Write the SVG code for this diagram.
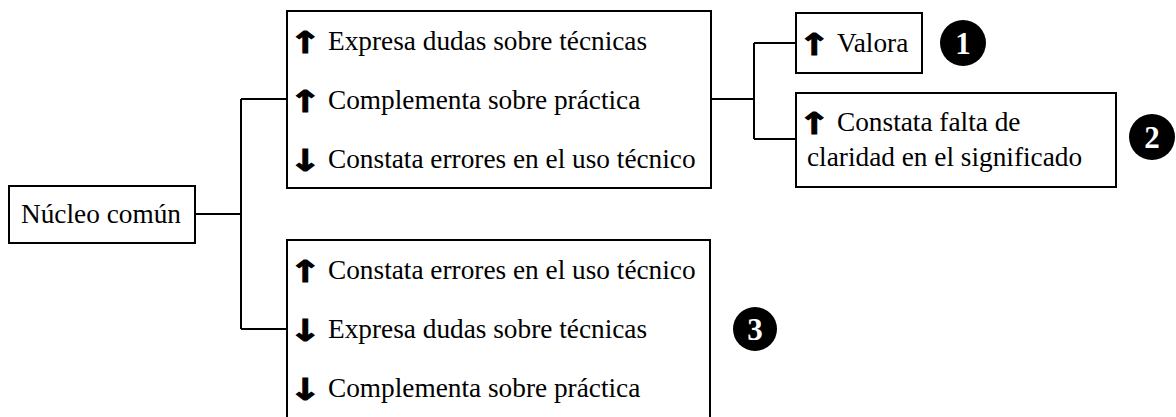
<svg xmlns="http://www.w3.org/2000/svg" width="1176" height="417" viewBox="0 0 1176 417">
<style>
.box{fill:#fff;stroke:#000;stroke-width:2}
.t{font-family:"Liberation Serif","Times New Roman",serif;font-size:27.3px;fill:#000}
.ar{font-family:"DejaVu Sans",sans-serif;font-weight:bold;font-size:30px;fill:#000;stroke:#000;stroke-width:1;text-anchor:middle}
.c{fill:#000}
.n{font-family:"Liberation Serif","Times New Roman",serif;font-weight:bold;font-size:31px;fill:#fff;text-anchor:middle}
.ln{fill:none;stroke:#000;stroke-width:2}
</style>
<rect width="1176" height="417" fill="#fff"/>
<g id="connectors">
<path class="ln" d="M195 214H241M241 99V329M241 99H287M241 329H287"/>
<path class="ln" d="M711 99H754M754 43V139M754 43H796M754 139H796"/>
</g>
<g id="nucleo">
<rect class="box" x="9" y="186" width="186" height="57"/>
<text class="t" x="21" y="223">Núcleo común</text>
</g>
<g id="grupo1">
<rect class="box" x="287" y="11" width="424" height="177"/>
<g transform="matrix(1.3 0 0 1 -91.5 0)">
<text class="ar" x="305" y="53">↑</text>
<text class="ar" x="305" y="112">↑</text>
<text class="ar" x="305" y="171">↓</text>
</g>
<text class="t" x="328" y="50">Expresa dudas sobre técnicas</text>
<text class="t" x="328" y="109">Complementa sobre práctica</text>
<text class="t" x="328" y="168">Constata errores en el uso técnico</text>
</g>
<g id="valora">
<rect class="box" x="796" y="13" width="126" height="60"/>
<g transform="matrix(1.3 0 0 1 -244.2 0)"><text class="ar" x="814" y="55">↑</text></g>
<text class="t" x="837" y="52">Valora</text>
</g>
<g id="constata">
<rect class="box" x="796" y="93" width="320" height="94"/>
<g transform="matrix(1.3 0 0 1 -244.2 0)"><text class="ar" x="814" y="134">↑</text></g>
<text class="t" x="837" y="131">Constata falta de</text>
<text class="t" x="807" y="166">claridad en el significado</text>
</g>
<g id="grupo2">
<rect class="box" x="287" y="240" width="423" height="190"/>
<g transform="matrix(1.3 0 0 1 -91.5 0)">
<text class="ar" x="305" y="282">↑</text>
<text class="ar" x="305" y="341">↓</text>
<text class="ar" x="305" y="400">↓</text>
</g>
<text class="t" x="328" y="279">Constata errores en el uso técnico</text>
<text class="t" x="328" y="338">Expresa dudas sobre técnicas</text>
<text class="t" x="328" y="397">Complementa sobre práctica</text>
</g>
<g id="badge1"><circle class="c" cx="963" cy="43" r="23"/><text class="n" x="963" y="54">1</text></g>
<g id="badge2"><circle class="c" cx="1152" cy="137" r="23"/><text class="n" x="1152" y="148">2</text></g>
<g id="badge3"><circle class="c" cx="755" cy="329" r="22"/><text class="n" x="755" y="340">3</text></g>
</svg>
